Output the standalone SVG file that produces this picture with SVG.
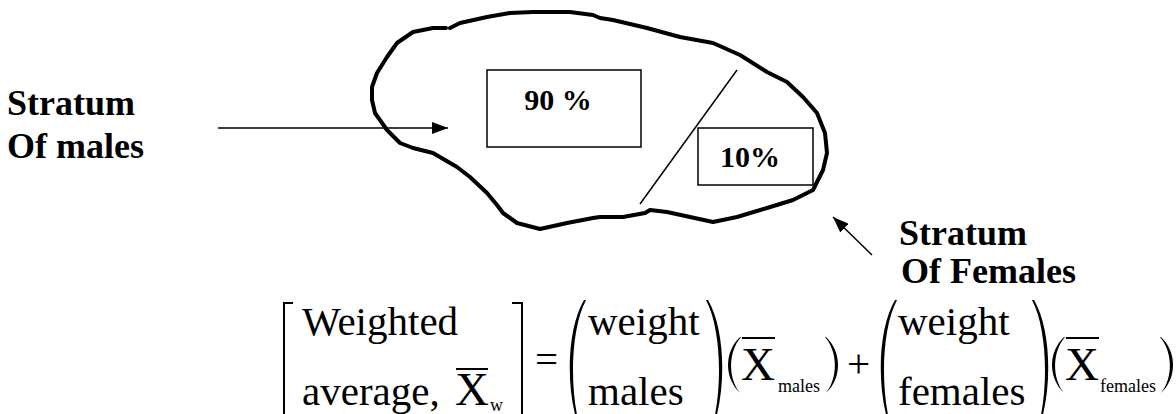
<svg xmlns="http://www.w3.org/2000/svg" width="1176" height="414" viewBox="0 0 1176 414" font-family="Liberation Serif">
<defs>
<style>
text{font-family:Liberation Serif,Tinos,serif}
.box{fill:#fff;stroke:#000;stroke-width:1.5}
.ln{stroke:#000;stroke-width:1.5;fill:none}
.br{stroke:#000;stroke-width:2;fill:none}
.par{fill:#000;stroke:none}
</style>
<marker id="ah2" viewBox="0 0 16 12" refX="16" refY="6" markerWidth="16" markerHeight="12" markerUnits="userSpaceOnUse" orient="auto">
<path d="M0,0 L16,6 L0,12 z" fill="#000"/>
</marker>
</defs>

<g id="population">
<path d="M450,28 L460,23 L487,17 L510,13 L533,12 L570,12 L593,15 L600,18 L613,20 L647,28 L680,37 L713,43 L740,55 L767,72 L787,82 L803,97 L817,113 L825,133 L827,153 L823,170 L813,190 L793,200 L767,208 L737,217 L713,222 L690,217 L667,212 L650,210 L645,213 L623,217 L600,217 L593,218 L567,223 L540,229 L517,223 L503,213 L497,205 L487,193 L470,177 L457,167 L433,153 L413,148 L400,143 L387,130 L375,113 L372,100 L372,87 L377,73 L387,57 L397,43 L413,32 L433,28 L446,28" fill="none" stroke="#000" stroke-width="4" stroke-linejoin="round" stroke-linecap="round"/>
<line class="ln" x1="737" y1="70" x2="640" y2="204"/>
</g>

<g id="box90">
<rect class="box" x="487" y="70" width="154" height="77"/>
<text x="558" y="110" text-anchor="middle" font-family="Liberation Serif" font-weight="bold" font-size="30">90 %</text>
</g>

<g id="box10">
<rect class="box" x="698" y="128" width="115" height="57"/>
<text x="750" y="167" text-anchor="middle" font-family="Liberation Serif" font-weight="bold" font-size="30">10%</text>
</g>

<g id="label-males">
<text x="7" y="115" font-family="Liberation Serif" font-weight="bold" font-size="36">Stratum</text>
<text x="7" y="158" font-family="Liberation Serif" font-weight="bold" font-size="36">Of males</text>
</g>

<g id="label-females">
<text x="899" y="245" font-family="Liberation Serif" font-weight="bold" font-size="36">Stratum</text>
<text x="901" y="283" font-family="Liberation Serif" font-weight="bold" font-size="36">Of Females</text>
</g>

<g id="connectors">
<line class="ln" x1="218" y1="128" x2="448" y2="128" marker-end="url(#ah2)"/>
<line class="ln" x1="872" y1="255" x2="833" y2="217" marker-end="url(#ah2)"/>
</g>

<g id="equation">
<path class="br" d="M293,303 L284,303 L284,416"/>
<path class="br" d="M512,303 L522,303 L522,416"/>
<text x="302" y="335" font-family="Liberation Serif" font-size="41">Weighted</text>
<text x="302" y="405" font-family="Liberation Serif" font-size="41">average,</text>
<text x="455" y="405" font-family="Liberation Serif" font-size="47">X</text>
<line class="br" x1="456" y1="369" x2="488" y2="369"/>
<text x="490" y="411" font-family="Liberation Serif" font-size="18">w</text>
<text x="535" y="373" font-family="Liberation Serif" font-size="41">=</text>

<path class="par" d="M584,300 C565,332 565,402 584,440 C569,402 569,332 586,300 Z"/>
<text x="588" y="335" font-family="Liberation Serif" font-size="41">weight</text>
<text x="588" y="405" font-family="Liberation Serif" font-size="41">males</text>
<path class="par" d="M708,300 C727,332 727,402 708,440 C723,402 723,332 706,300 Z"/>

<path class="par" d="M740,337 C724,352 724,378 740,393 C728,378 728,352 741,337 Z"/>
<text x="741" y="380" font-family="Liberation Serif" font-size="47">X</text>
<line class="br" x1="742" y1="338" x2="775" y2="338"/>
<text x="778" y="392" font-family="Liberation Serif" font-size="18">males</text>
<path class="par" d="M826,337 C842,352 842,378 826,393 C838,378 838,352 825,337 Z"/>

<text x="847" y="377" font-family="Liberation Serif" font-size="41">+</text>

<path class="par" d="M895,300 C876,332 876,402 895,440 C880,402 880,332 897,300 Z"/>
<text x="898" y="335" font-family="Liberation Serif" font-size="41">weight</text>
<text x="898" y="405" font-family="Liberation Serif" font-size="41">females</text>
<path class="par" d="M1034,300 C1053,332 1053,402 1034,440 C1049,402 1049,332 1032,300 Z"/>

<path class="par" d="M1064,337 C1048,352 1048,378 1064,393 C1052,378 1052,352 1065,337 Z"/>
<text x="1065" y="380" font-family="Liberation Serif" font-size="47">X</text>
<line class="br" x1="1066" y1="338" x2="1099" y2="338"/>
<text x="1100" y="392" font-family="Liberation Serif" font-size="18">females</text>
<path class="par" d="M1161,337 C1177,352 1177,378 1161,393 C1173,378 1173,352 1160,337 Z"/>
</g>
</svg>
